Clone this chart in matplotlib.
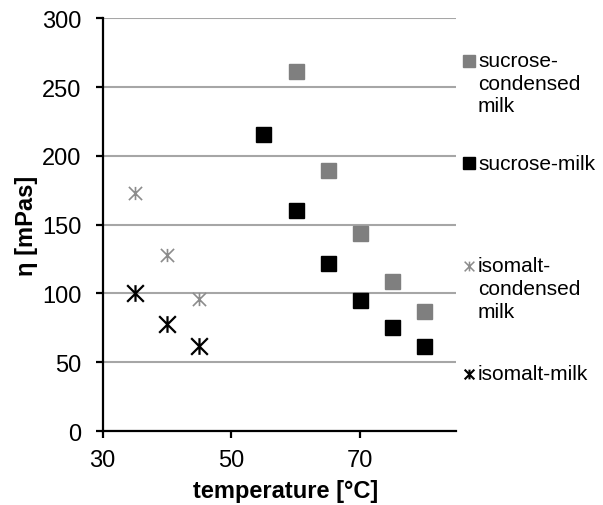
import numpy as np
import matplotlib
matplotlib.use('Agg')
import matplotlib.pyplot as plt
from matplotlib.lines import Line2D
from matplotlib.path import Path

plt.rcParams['font.family'] = ['Liberation Sans', 'DejaVu Sans']

# data
temp_suc_cond = [60, 65, 70, 75, 80]
visc_suc_cond = [262, 190, 144, 109, 87]
temp_suc_milk = [55, 60, 65, 70, 75, 80]
visc_suc_milk = [216, 161, 122, 95, 76, 62]
temp_iso_cond = [35, 40, 45]
visc_iso_cond = [173, 128, 96]
temp_iso_milk = [35, 40, 45]
visc_iso_milk = [100, 78, 62]

labels = ['sucrose-\ncondensed\nmilk', 'sucrose-milk',
          'isomalt-\ncondensed\nmilk', 'isomalt-milk']

gray = '#7f7f7f'
lgray = '#8c8c8c'
# excel style star: an X with a vertical bar through it
star = Path([(-1, -1), (1, 1), (-1, 1), (1, -1), (0, -1), (0, 1)],
            [Path.MOVETO, Path.LINETO, Path.MOVETO, Path.LINETO, Path.MOVETO, Path.LINETO])

fig = plt.figure(figsize=(6.03, 5.06), dpi=100)
ax = fig.add_axes([0.170, 0.146, 0.587, 0.816])

ax.plot(temp_suc_cond, visc_suc_cond, ls='none', marker='s', ms=10.8, color=gray, mec=gray)
ax.plot(temp_suc_milk, visc_suc_milk, ls='none', marker='s', ms=10.8, color='black')
ax.plot(temp_iso_cond, visc_iso_cond, ls='none', marker=star, ms=9.5, mew=1.2, color=lgray)
ax.plot(temp_iso_milk, visc_iso_milk, ls='none', marker=star, ms=12, mew=1.6, color='black')

ax.set_xlim(30, 85)
ax.set_ylim(0, 300)
ax.set_xticks([30, 50, 70])
ax.set_yticks(np.arange(0, 301, 50))
ax.yaxis.grid(True, color='#a6a6a6', lw=1.5)
ax.set_axisbelow(True)
for s in ['top', 'right']:
    ax.spines[s].set_visible(False)
for s in ['left', 'bottom']:
    ax.spines[s].set_linewidth(1.6)
ax.tick_params(axis='both', labelsize=17, width=1.6, length=5, colors='black')
ax.tick_params(axis='y', pad=10)
ax.tick_params(axis='x', pad=8)
ax.set_xlabel('temperature [°C]', fontsize=17, fontweight='bold', va='center')
ax.set_ylabel('η [mPas]', fontsize=17, fontweight='bold', va='center')
ax.xaxis.set_label_coords(0.518, -0.145)
ax.yaxis.set_label_coords(-0.214, 0.5)

# legend drawn by hand so the marker sits on the first text line
H = 506.0
W = 603.0
entries = [
    (61.5, 's', gray, 9, 1.0, labels[0]),
    (164, 's', 'black', 9, 1.0, labels[1]),
    (267, star, lgray, 7, 1.1, labels[2]),
    (375, star, 'black', 7, 1.5, labels[3]),
]
for ypix, mk, col, ms, mw, lab in entries:
    fig.add_artist(Line2D([469 / W], [1 - ypix / H], marker=mk, ms=ms, mew=mw,
                          color=col, mec=col, ls='none', transform=fig.transFigure))
    for i, line in enumerate(lab.split('\n')):
        fig.text(478 / W, 1 - (ypix + i * 22.7) / H, line, fontsize=15,
                 va='center', ha='left')

fig.savefig('out.png', dpi=100)
